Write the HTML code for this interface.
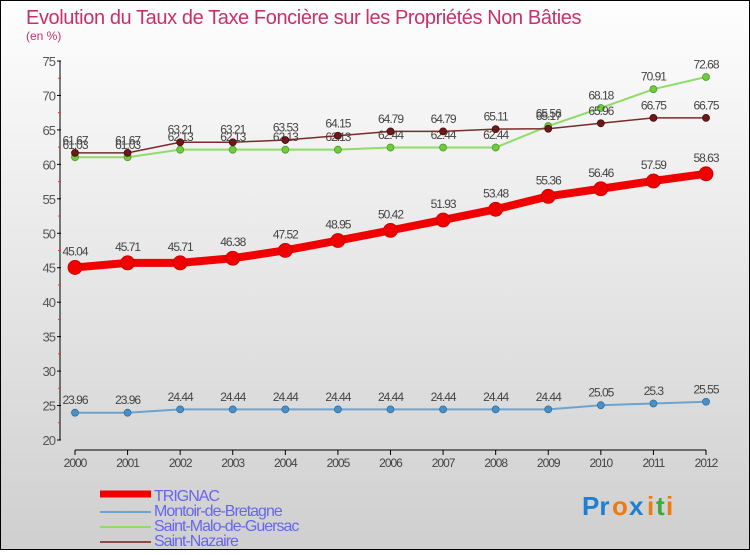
<!DOCTYPE html>
<html><head><meta charset="utf-8"><style>
body{margin:0;width:750px;height:550px;overflow:hidden;font-family:"Liberation Sans",sans-serif}
</style></head><body>
<svg id="chart" width="750" height="550" xmlns="http://www.w3.org/2000/svg">
<defs><linearGradient id="bg" x1="0" y1="0" x2="0" y2="1"><stop offset="0" stop-color="#fefefe"/><stop offset="1" stop-color="#cfcfcf"/></linearGradient></defs>
<rect x="0.5" y="0.5" width="749" height="549" fill="url(#bg)" stroke="#000"/>
<text x="26" y="24" font-size="20" letter-spacing="-0.4" fill="#c8306a">Evolution du Taux de Taxe Foncière sur les Propriétés Non Bâties</text>
<text x="26" y="40" font-size="12" fill="#c8306a">(en %)</text>
<g id="axes"></g>
<g id="series"></g>
<g id="legend"></g>
<g font-size="26" font-weight="bold">
<text x="582" y="515" fill="#1e7fd0">Pr</text><text x="612" y="515" fill="#f07a10">o</text><text x="629" y="515" fill="#1e7fd0">x</text><text x="647" y="515" fill="#f07a10">i</text><text x="656" y="515" fill="#3aaa3a">t</text><text x="666" y="515" fill="#f07a10">i</text>
</g>
</svg>
<script>
const years=[2000,2001,2002,2003,2004,2005,2006,2007,2008,2009,2010,2011,2012];
const trignac=[45.04,45.71,45.71,46.38,47.52,48.95,50.42,51.93,53.48,55.36,56.46,57.59,58.63];
const montoir=[23.96,23.96,24.44,24.44,24.44,24.44,24.44,24.44,24.44,24.44,25.05,25.3,25.55];
const saintMalo=[61.03,61.03,62.13,62.13,62.13,62.13,62.44,62.44,62.44,65.56,68.18,70.91,72.68];
const saintNazaire=[61.67,61.67,63.21,63.21,63.53,64.15,64.79,64.79,65.11,65.17,65.96,66.75,66.75];
const yTicks=[20,25,30,35,40,45,50,55,60,65,70,75];
const NS="http://www.w3.org/2000/svg";
const xS=y=>75+(y-2000)*(706-75)/12;
const yS=v=>440-(v-20)*(440-61)/55;
function mk(tag,attrs,parent,text){const e=document.createElementNS(NS,tag);for(const k in attrs)e.setAttribute(k,attrs[k]);if(text!==undefined)e.textContent=text;parent.appendChild(e);return e;}
const axes=document.getElementById('axes');
let yl=mk('line',{x1:60,y1:yS(75),x2:60,y2:yS(20),stroke:'#000'},axes);


yTicks.forEach(t=>{
  mk('line',{x1:57,x2:61,y1:yS(t),y2:yS(t),stroke:'#000'},axes);
  const l=mk('text',{x:55,y:yS(t)+5,'font-size':13,fill:'#555','text-anchor':'end','letter-spacing':'-1'},axes,t);
  
  
  if(t<75)mk('line',{x1:58,x2:61,y1:yS(t+2.5),y2:yS(t+2.5),stroke:'#e33'},axes);
});
let xl=mk('line',{x1:75,y1:450,x2:706,y2:450,stroke:'#000'},axes);


years.forEach(y=>{
  mk('line',{x1:xS(y),x2:xS(y),y1:450,y2:455,stroke:'#000'},axes);
  const l=mk('text',{x:xS(y),y:467,'font-size':12,fill:'#444','text-anchor':'middle','letter-spacing':'-1'},axes,y);
  
  
});
const ser=document.getElementById('series');
function draw(vals,color,w,r,dot,name,stroke){
  const g=mk('g',{},ser);
  
  
  mk('polyline',{points:vals.map((v,i)=>xS(years[i])+','+yS(v)).join(' '),fill:'none',stroke:color,'stroke-width':w},g);
  vals.forEach((v,i)=>{
    const c=mk('circle',{cx:xS(years[i]),cy:yS(v),r:r,fill:dot,stroke:stroke,'stroke-width':0.8},g);
    
    
    const t=mk('text',{x:xS(years[i]),y:yS(v)-r-5,'font-size':12,fill:'#444','text-anchor':'middle','letter-spacing':'-1'},g,v);
    
    
  });
}
draw(montoir,'#6fa3cf',2,3.5,'#4a90c8','montoir-series','#2f6f9f');
draw(saintMalo,'#8fdc6a',2,3.5,'#6fcc3a','saint-malo-series','#4a9a2a');
draw(saintNazaire,'#7a2a2a',1.5,3.5,'#6a1a1a','saint-nazaire-series','#4a0a0a');
draw(trignac,'#f00000',8,7,'#f00000','trignac-series','#c00000');
const lg=document.getElementById('legend');
[['TRIGNAC','#f00000',7],['Montoir-de-Bretagne','#6fa3cf',2],['Saint-Malo-de-Guersac','#8fdc6a',2],['Saint-Nazaire','#8a4a4a',2]].forEach((e,i)=>{
  const y=492+i*15;
  const g=mk('g',{},lg);
  
  
  mk('line',{x1:100,x2:151,y1:y+(i?5:2),y2:y+(i?5:2),stroke:e[1],'stroke-width':e[2]},g);
  mk('text',{x:154,y:y+9,'font-size':16,fill:'#6666ee','letter-spacing':'-1'},g,e[0]);
});
</script>
</body></html>
